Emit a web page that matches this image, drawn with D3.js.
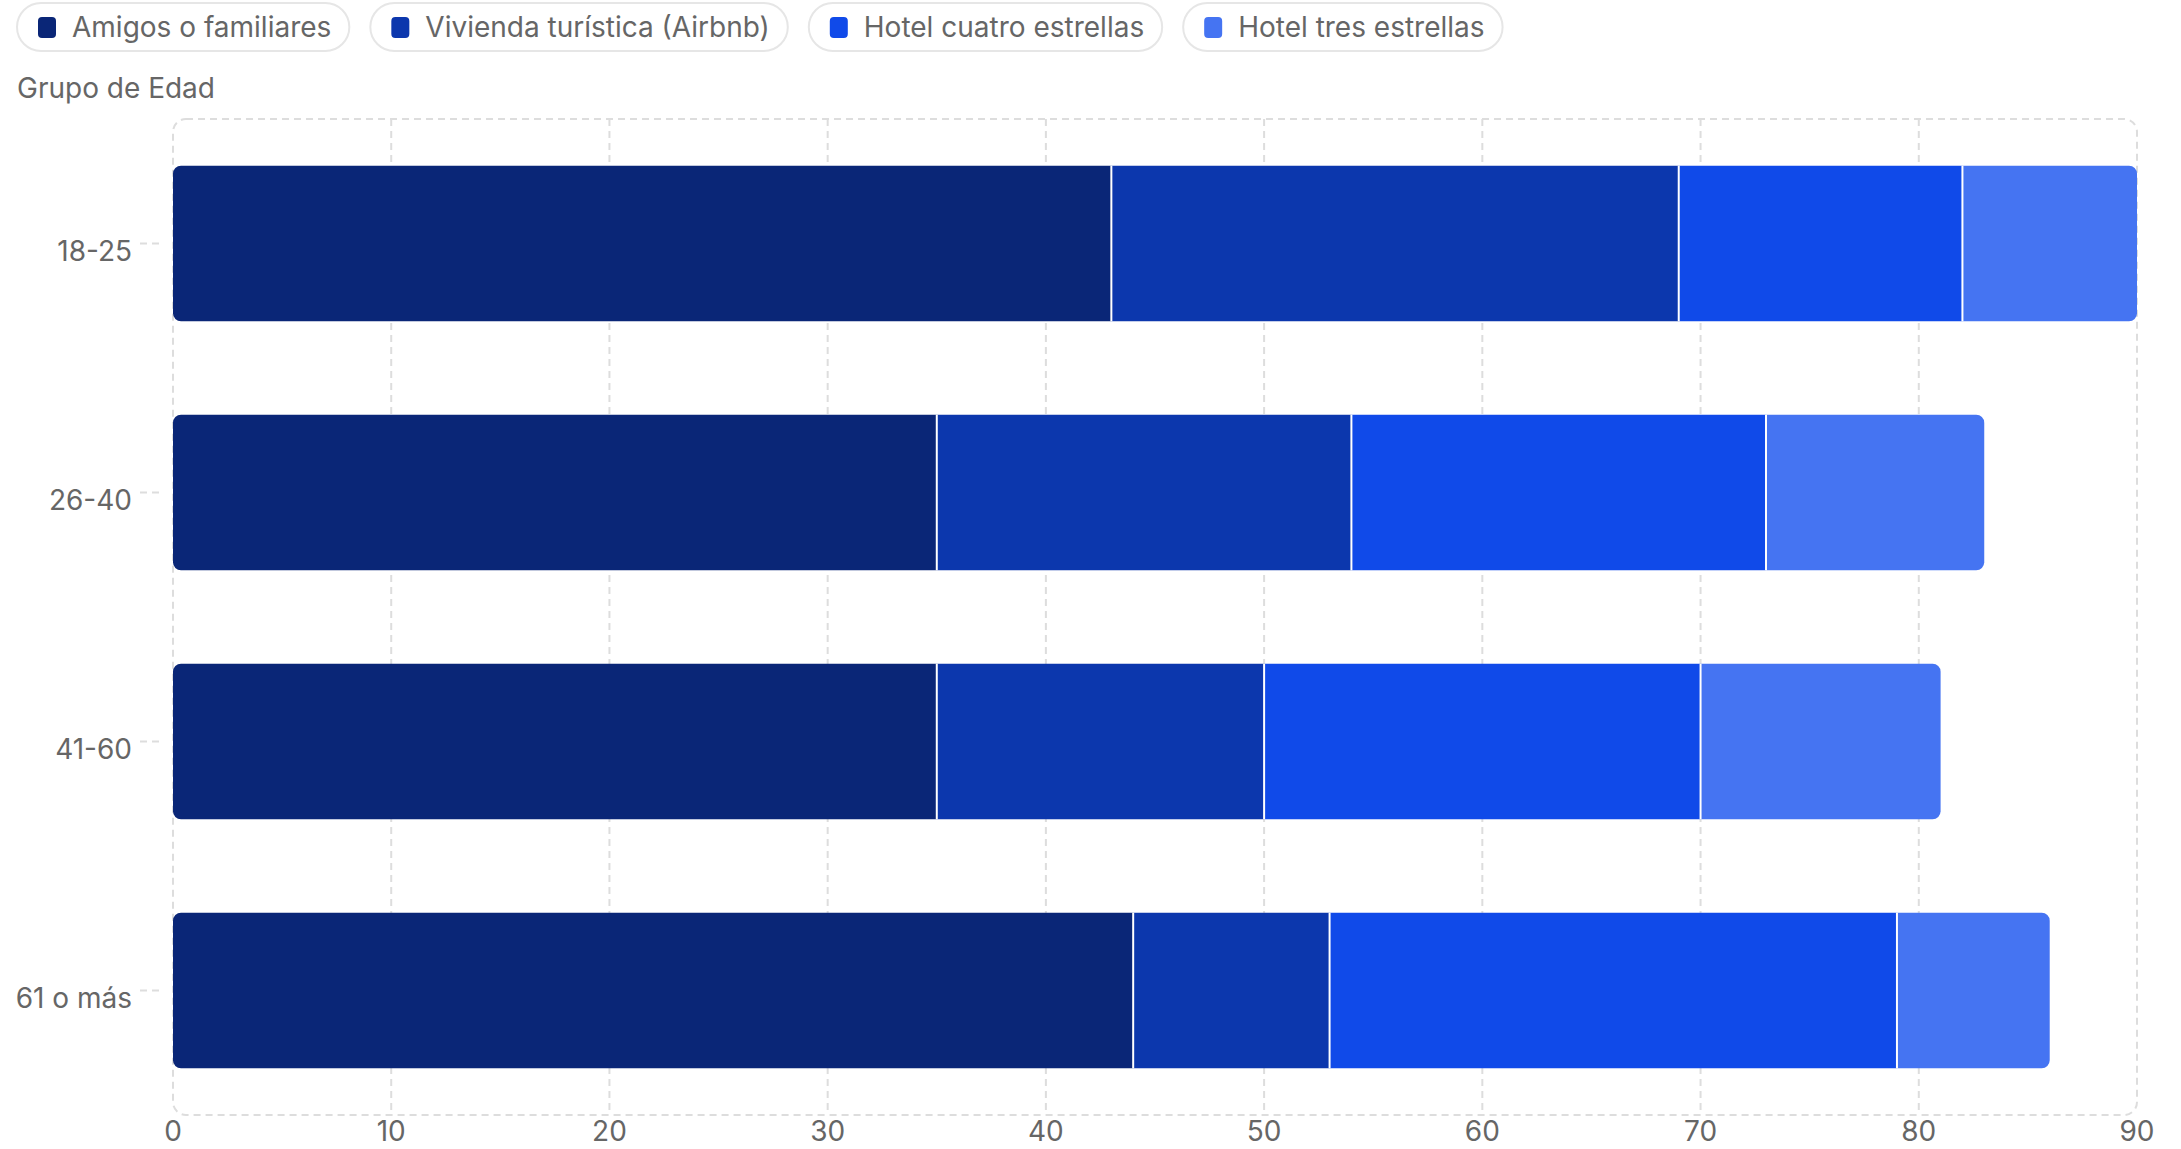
<!DOCTYPE html>
<html>
<head>
<meta charset="utf-8">
<script src="https://cdn.jsdelivr.net/npm/d3@7"></script>
<style>
  html, body { margin: 0; padding: 0; background: #fff; }
  svg { display: block; font-family: Inter, "Noto Sans", sans-serif; }
</style>
</head>
<body>
<svg id="chart" width="2181" height="1149"></svg>
<script>
const categories = ["18-25", "26-40", "41-60", "61 o más"];
const seriesNames = ["Amigos o familiares", "Vivienda turística (Airbnb)", "Hotel cuatro estrellas", "Hotel tres estrellas"];
const amigos   = [43, 35, 35, 44];
const vivienda = [26, 19, 15, 9];
const cuatro   = [13, 19, 20, 26];
const tres     = [8, 10, 11, 7];
const seriesColors = ["#0a2677", "#0c37ad", "#104ae9", "#4574f2"];
const xTicks = [0, 10, 20, 30, 40, 50, 60, 70, 80, 90];
const yAxisTitle = "Grupo de Edad";

const seriesValues = [amigos, vivienda, cuatro, tres];
const rows = categories.map((c, i) => {
  const r = { cat: c };
  seriesNames.forEach((s, j) => r[s] = seriesValues[j][i]);
  return r;
});
const stacked = d3.stack().keys(seriesNames)(rows);

const svg = d3.select("#chart");
const margin = { left: 173, right: 2137, top: 119, bottom: 1115 };
const x = d3.scaleLinear().domain([0, 90]).range([margin.left, margin.right]);
const y = d3.scaleBand().domain(categories).range([margin.top, margin.bottom])
  .paddingInner(0.375).paddingOuter(0.1875);
const color = d3.scaleOrdinal().domain(seriesNames).range(seriesColors);

const gridColor = "#dddddd";
const dash = "7,5";
const textColor = "#666666";

// grid lines
svg.append("g").selectAll("line").data(xTicks.filter(t => t > 0 && t < 90)).join("line")
  .attr("x1", d => x(d)).attr("x2", d => x(d))
  .attr("y1", margin.top).attr("y2", margin.bottom)
  .attr("stroke", gridColor).attr("stroke-width", 2).attr("stroke-dasharray", dash);

// border
svg.append("rect")
  .attr("x", margin.left).attr("y", margin.top)
  .attr("width", margin.right - margin.left).attr("height", margin.bottom - margin.top)
  .attr("rx", 13).attr("ry", 13)
  .attr("fill", "none").attr("stroke", gridColor).attr("stroke-width", 2).attr("stroke-dasharray", dash);

// bars
function segPath(x0, x1, y0, h, rl, rr) {
  const p = d3.path();
  p.moveTo(x0 + rl, y0);
  p.lineTo(x1 - rr, y0);
  if (rr) p.arcTo(x1, y0, x1, y0 + rr, rr); 
  p.lineTo(x1, y0 + h - rr);
  if (rr) p.arcTo(x1, y0 + h, x1 - rr, y0 + h, rr);
  p.lineTo(x0 + rl, y0 + h);
  if (rl) p.arcTo(x0, y0 + h, x0, y0 + h - rl, rl);
  p.lineTo(x0, y0 + rl);
  if (rl) p.arcTo(x0, y0, x0 + rl, y0, rl);
  p.closePath();
  return p.toString();
}
const R = 8;
const nS = stacked.length;
const barG = svg.append("g");
stacked.forEach((layer, li) => {
  barG.append("g").selectAll("path").data(layer).join("path")
    .attr("d", d => segPath(x(d[0]), x(d[1]), y(d.data.cat), y.bandwidth(),
      li === 0 ? R : 0, li === nS - 1 ? R : 0))
    .attr("fill", color(layer.key));
});
// separators
stacked.slice(0, nS - 1).forEach(layer => {
  barG.append("g").selectAll("line").data(layer).join("line")
    .attr("x1", d => x(d[1])).attr("x2", d => x(d[1]))
    .attr("y1", d => y(d.data.cat)).attr("y2", d => y(d.data.cat) + y.bandwidth())
    .attr("stroke", "#fff").attr("stroke-width", 2);
});

// x axis labels
svg.append("g").selectAll("text").data(xTicks).join("text")
  .attr("x", d => x(d)).attr("y", 1141)
  .attr("text-anchor", "middle")
  .attr("font-size", 28).attr("fill", textColor)
  .text(d => d);

// y axis ticks and labels
const yG = svg.append("g");
yG.selectAll("line").data(categories).join("line")
  .attr("x1", 140).attr("x2", 159)
  .attr("y1", d => y(d) + y.bandwidth() / 2).attr("y2", d => y(d) + y.bandwidth() / 2)
  .attr("stroke", gridColor).attr("stroke-width", 2).attr("stroke-dasharray", dash);
yG.selectAll("text").data(categories).join("text")
  .attr("x", 132).attr("y", d => y(d) + y.bandwidth() / 2 + 17)
  .attr("text-anchor", "end")
  .attr("font-size", 28).attr("fill", textColor)
  .text(d => d);

// y axis title
svg.append("text").attr("x", 17).attr("y", 98)
  .attr("font-size", 28).attr("fill", textColor).text(yAxisTitle);

// legend pills
const legend = svg.append("g");
let lx = 17;
seriesNames.forEach((name, i) => {
  const g = legend.append("g");
  const pill = g.append("rect");
  g.append("rect").attr("x", lx + 21).attr("y", 17).attr("width", 18).attr("height", 21)
    .attr("rx", 4).attr("fill", seriesColors[i]);
  const t = g.append("text").attr("x", lx + 55).attr("y", 37)
    .attr("font-size", 28).attr("fill", textColor).text(name);
  const w = t.node().getComputedTextLength();
  const pw = 55 + w + 18;
  pill.attr("x", lx).attr("y", 3).attr("width", pw).attr("height", 48)
    .attr("rx", 24).attr("fill", "#fff").attr("stroke", "#e6e6e6").attr("stroke-width", 2);
  lx += pw + 21;
});
</script>
</body>
</html>
